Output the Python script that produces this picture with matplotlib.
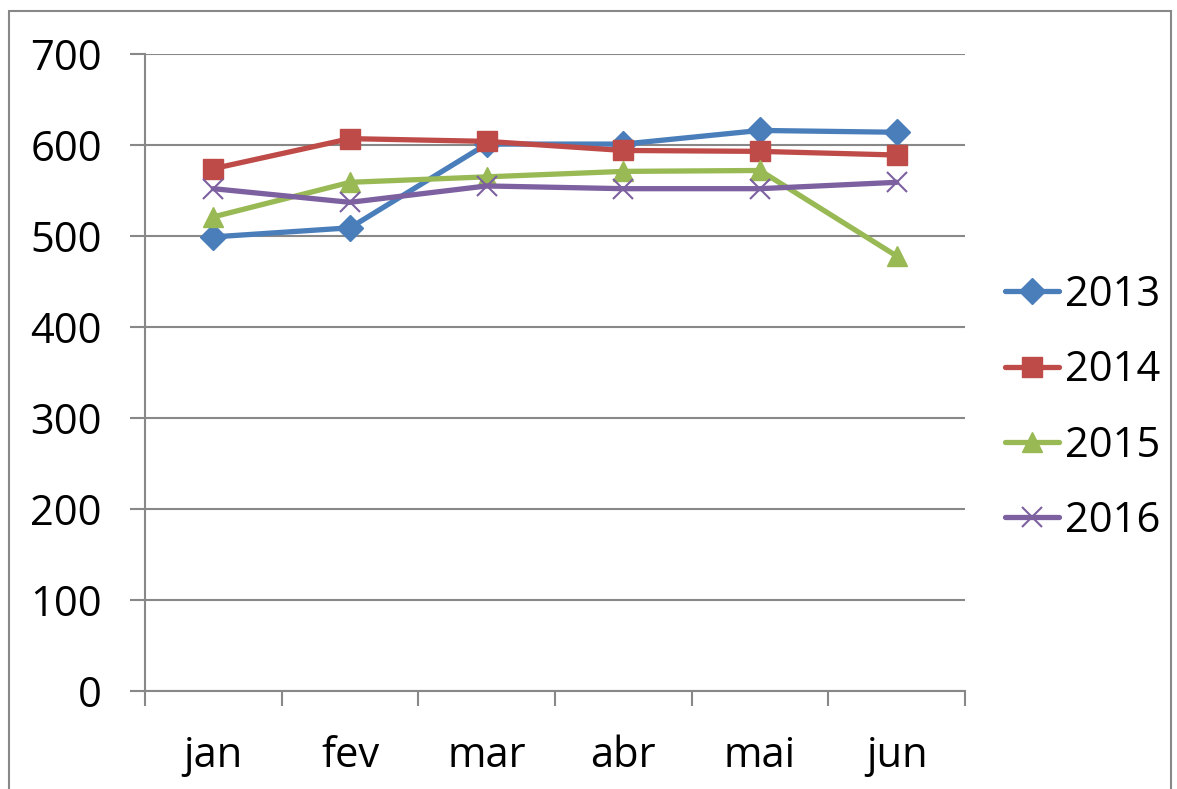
import matplotlib
matplotlib.use("Agg")
import matplotlib.pyplot as plt
from matplotlib.patches import Rectangle

months = ["jan", "fev", "mar", "abr", "mai", "jun"]
s2013 = [499, 509, 601, 601, 616, 614]
s2014 = [574, 607, 604, 594, 593, 589]
s2015 = [521, 559, 565, 571, 572, 478]
s2016 = [552, 537, 555, 552, 552, 559]

series = [
    ("2013", s2013, "#4A7EBB", "D", 13),
    ("2014", s2014, "#BE4B48", "s", 14),
    ("2015", s2015, "#98B954", "^", 15),
    ("2016", s2016, "#7D60A0", "x", 14),
]

plt.rcParams["font.family"] = ["Open Sans", "DejaVu Sans"]
grid_color = "#888888"

fig = plt.figure(figsize=(11.77, 7.89), dpi=100)
ax = fig.add_axes([145 / 1177, 1 - 691 / 789, 820 / 1177, 637 / 789])

# chart area border
fig.patches.append(Rectangle((9 / 1177, -0.01), 1162 / 1177, 1 - 11 / 789 + 0.01,
                             transform=fig.transFigure, fill=False,
                             edgecolor=grid_color, linewidth=1.5))

x = list(range(len(months)))
for name, vals, color, marker, ms in series:
    kw = dict(markeredgewidth=1.5) if marker == "x" else dict(markeredgecolor=color)
    ax.plot(x, vals, color=color, linewidth=3.8, marker=marker, markersize=ms,
            label=name, solid_capstyle="round", **kw)

ax.set_ylim(0, 700)
ax.set_xlim(-0.5, len(months) - 0.5)
ax.set_yticks(range(0, 701, 100))
ax.set_xticks(x)
ax.set_xticklabels(months)
ax.set_xticks([i - 0.5 for i in range(len(months) + 1)], minor=True)

ax.grid(axis="y", color=grid_color, linewidth=1.5)
ax.set_axisbelow(True)
for side in ["top", "right"]:
    ax.spines[side].set_visible(False)
for side in ["left", "bottom"]:
    ax.spines[side].set_color(grid_color)
    ax.spines[side].set_linewidth(1.5)

ax.tick_params(axis="y", length=11, width=1.5, color=grid_color, pad=20, labelsize=30)
ax.tick_params(axis="x", which="major", length=0, pad=32, labelsize=30)
ax.tick_params(axis="x", which="minor", length=11, width=1.5, color=grid_color)

ax.legend(loc="center left", bbox_to_anchor=(1005 / 1177, 1 - 408 / 789),
          bbox_transform=fig.transFigure, frameon=False, fontsize=30,
          handlelength=1.3, handletextpad=0.15, labelspacing=0.8,
          borderpad=0, borderaxespad=0)

fig.savefig("out.png", dpi=100)
